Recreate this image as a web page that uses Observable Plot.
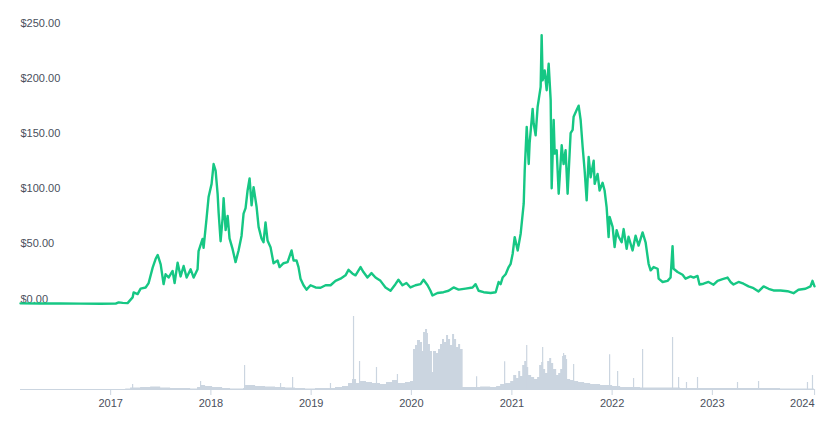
<!DOCTYPE html>
<html>
<head>
<meta charset="utf-8">
<script src="https://cdn.jsdelivr.net/npm/d3@7"></script>
<script src="https://cdn.jsdelivr.net/npm/@observablehq/plot@0.6"></script>
<style>
  html, body { margin: 0; padding: 0; background: #fff; overflow: hidden; }
  #chart svg { display: block; }
</style>
</head>
<body>
<div id="chart"></div>
<script>
// Price series (decimal year, USD)
const priceYears = [2016.103,2016.3,2016.5,2016.7,2016.9,2017.05,2017.08,2017.12,2017.169,2017.219,2017.229,2017.269,2017.299,2017.349,2017.379,2017.419,2017.449,2017.469,2017.499,2017.528,2017.548,2017.578,2017.618,2017.638,2017.668,2017.698,2017.728,2017.758,2017.798,2017.828,2017.867,2017.877,2017.917,2017.927,2017.957,2017.977,2018.007,2018.027,2018.047,2018.067,2018.077,2018.097,2018.117,2018.127,2018.147,2018.167,2018.186,2018.216,2018.246,2018.276,2018.306,2018.326,2018.346,2018.366,2018.386,2018.406,2018.426,2018.456,2018.476,2018.505,2018.525,2018.545,2018.565,2018.595,2018.625,2018.665,2018.685,2018.725,2018.765,2018.805,2018.825,2018.854,2018.874,2018.894,2018.924,2018.954,2018.994,2019.044,2019.094,2019.144,2019.194,2019.243,2019.293,2019.343,2019.373,2019.413,2019.443,2019.493,2019.522,2019.562,2019.602,2019.642,2019.692,2019.742,2019.792,2019.841,2019.871,2019.911,2019.951,2019.991,2020.041,2020.091,2020.121,2020.161,2020.19,2020.21,2020.26,2020.32,2020.37,2020.42,2020.47,2020.539,2020.609,2020.639,2020.669,2020.719,2020.789,2020.839,2020.868,2020.888,2020.908,2020.938,2020.968,2020.988,2021.008,2021.028,2021.058,2021.088,2021.118,2021.128,2021.148,2021.168,2021.177,2021.207,2021.217,2021.237,2021.257,2021.267,2021.287,2021.297,2021.307,2021.327,2021.347,2021.367,2021.387,2021.397,2021.417,2021.427,2021.447,2021.467,2021.497,2021.516,2021.536,2021.556,2021.586,2021.606,2021.616,2021.646,2021.666,2021.686,2021.706,2021.726,2021.746,2021.766,2021.786,2021.816,2021.826,2021.855,2021.875,2021.905,2021.925,2021.945,2021.965,2021.975,2022.005,2022.025,2022.045,2022.065,2022.095,2022.115,2022.145,2022.164,2022.204,2022.234,2022.264,2022.304,2022.334,2022.364,2022.384,2022.414,2022.454,2022.464,2022.504,2022.553,2022.583,2022.603,2022.613,2022.653,2022.703,2022.733,2022.783,2022.813,2022.852,2022.872,2022.912,2022.962,2023.012,2023.052,2023.102,2023.152,2023.181,2023.211,2023.261,2023.311,2023.361,2023.411,2023.461,2023.511,2023.561,2023.61,2023.68,2023.75,2023.81,2023.859,2023.929,2023.979,2023.999,2024.019];
const priceValues = [0.6,0.5,0.4,0.3,0.2,0.3,1.5,1.0,0.8,6,10.5,9,14,15,19,33,41,44.5,36,18,27,24,30,19,37.5,25,34.5,24,31.5,24,31.5,48,59,51,78,97,109,127,121,100,83,57,78,96,67,80,59.5,50,38,48.6,62,82,87,103,114,89.5,106,88,70,59.5,56,74,57.7,51.6,37,39.5,33.5,37,38,48.6,39.5,39.5,33.5,23,17,13,17,15,14.7,17,17,21,23,26,31,27.5,26,33.5,29,24,28,24,21,15,12,18,22,17,19,15,17,18,22,17,12,7.7,10,10.7,12,15,13,14,15,18,12,10.7,10,10.7,20,18,24,27,33.5,36.5,45.6,60.7,48.6,64,91,121,160.7,127,146,177,164,153,179,185,197,244,203,212,194,218,185,105,167,136.5,139.5,100,144,127,139.5,100,155,158,170,176,180,167,142.5,121,94,133.5,115,130,109,118,103,110,103,88,60.7,79,70,51.6,67,61,56,68,50,61,48.6,62,53,65,56,36.5,30.5,33.5,32,23,20,21,24,52.5,32,29,26.5,23,25,24,25.5,17.7,18.4,20,17.5,21,22.5,24,20,17.7,20,18.4,16,14.4,11.4,16,13.8,12.3,12.3,11.6,9.8,12.9,13.8,16,21,16];

// Trading volume (relative units), general level
const volYears = [2016.103,2017.15,2017.199,2017.299,2017.399,2017.499,2017.598,2017.698,2017.798,2017.867,2017.897,2017.947,2018.017,2018.117,2018.196,2018.326,2018.346,2018.446,2018.545,2018.645,2018.745,2018.844,2018.944,2019.044,2019.144,2019.243,2019.313,2019.373,2019.413,2019.453,2019.493,2019.552,2019.612,2019.692,2019.752,2019.812,2019.871,2019.941,2019.991,2020.021,2020.041,2020.061,2020.091,2020.111,2020.121,2020.141,2020.161,2020.17,2020.19,2020.21,2020.22,2020.25,2020.27,2020.29,2020.31,2020.33,2020.35,2020.37,2020.39,2020.41,2020.43,2020.45,2020.47,2020.49,2020.515,2020.589,2020.689,2020.789,2020.848,2020.888,2020.938,2020.988,2021.018,2021.048,2021.068,2021.088,2021.108,2021.128,2021.148,2021.168,2021.197,2021.227,2021.257,2021.277,2021.297,2021.317,2021.337,2021.357,2021.377,2021.397,2021.417,2021.447,2021.467,2021.487,2021.506,2021.526,2021.546,2021.556,2021.586,2021.626,2021.666,2021.726,2021.786,2021.885,2022.005,2022.085,2022.284,2022.483,2022.683,2022.882,2023.281,2023.68,2024.019];
const volValues = [0,0.5,1.5,2,2.5,1.5,1,1,0.5,2,4,3,2,1,0.5,1,4,3,2.5,2,1.5,1,0.5,1,1,2,3,6,10,6,8,7,6,5,7,9,6,7,8,40,44,49,47,38,57,60,56,45,38,17,38,36,40,45,50,47,54,50,44,55,50,42,45,40,2,2,2.5,2,3,5,6,8,14,11,18,13,24,28,22,14,12,10,12,24,27,20,16,28,31,26,20,14,16,20,33,34,30,10,9,8,7,6,5,4,3,2,1.5,1.5,1,1,1,0.5,0.5];

// Volume spikes
const spikeYears = [2017.219,2017.897,2018.336,2018.695,2018.815,2019.193,2019.423,2019.483,2019.652,2019.861,2020.649,2020.928,2021.148,2021.307,2021.516,2021.616,2021.975,2022.055,2022.214,2022.304,2022.603,2022.663,2022.742,2022.852,2023.251,2023.461,2023.949,2023.999];
const spikeValues = [5,8,24,6,12,6,73,28,22,15,12.7,27.7,44,42,36,25,34.7,18,11,40,52,12,7,12,7,8,7,14];

const yTicks = [0, 50, 100, 150, 200, 250];
const xTickYears = [2017, 2018, 2019, 2020, 2021, 2022, 2023];
const lastTickYear = [2024];

function toDate(y) {
  const yr = Math.floor(y);
  const s = Date.UTC(yr, 0, 1), e = Date.UTC(yr + 1, 0, 1);
  return new Date(s + (y - yr) * (e - s));
}

const price = priceYears.map((y, i) => ({date: toDate(y), value: priceValues[i]}));
const volume = volYears.map((y, i) => ({date: toDate(y), value: volValues[i]}));
const spikes = spikeYears.map((y, i) => ({date: toDate(y), value: spikeValues[i]}));
const xDomain = [toDate(priceYears[0]), toDate(priceYears[priceYears.length - 1])];

const GREEN = "#16c784";
const VOL = "#cbd5e0";
const TEXT = "#4a4f5c";
const FONT = "'Liberation Sans', Arial, sans-serif";

const priceChart = Plot.plot({
  width: 827,
  height: 310,
  marginLeft: 20,
  marginRight: 13,
  marginTop: 28,
  marginBottom: 6.5,
  style: {fontFamily: FONT, fontSize: "11px", color: TEXT, background: "#fff"},
  x: {type: "utc", domain: xDomain, axis: null},
  y: {domain: [0, 250], axis: null},
  marks: [
    Plot.axisY(yTicks, {
      anchor: "left", tickSize: 0, tickPadding: 0, textAnchor: "start", label: null,
      dy: -5, fill: TEXT, fontSize: 11, tickFormat: d => "$" + d3.format(",.2f")(d)
    }),
    Plot.line(price, {x: "date", y: "value", stroke: GREEN, strokeWidth: 2.4, strokeLinejoin: "round", curve: "linear"})
  ]
});

const volumeChart = Plot.plot({
  width: 827,
  height: 111,
  marginLeft: 20,
  marginRight: 13,
  marginTop: 6,
  marginBottom: 32,
  style: {fontFamily: FONT, fontSize: "11px", color: TEXT, background: "#fff"},
  x: {type: "utc", domain: xDomain, axis: null},
  y: {domain: [0, 73], axis: null},
  marks: [
    Plot.areaY(volume, {x: "date", y: "value", fill: VOL, curve: "step-after"}),
    Plot.ruleX(spikes, {x: "date", y: "value", stroke: VOL, strokeWidth: 1.2}),
    Plot.ruleY([0], {stroke: VOL, strokeWidth: 1.2}),
    Plot.axisX(xTickYears.map(y => toDate(y)), {
      anchor: "bottom", tickSize: 6, tickPadding: 4, stroke: VOL, fill: TEXT, fontSize: 11, label: null,
      tickFormat: d3.utcFormat("%Y")
    }),
    Plot.axisX(lastTickYear.map(y => toDate(y)), {
      anchor: "bottom", tickSize: 6, tickPadding: 4, stroke: VOL, fill: TEXT, fontSize: 11, label: null,
      textAnchor: "end", dx: 2, tickFormat: d3.utcFormat("%Y")
    })
  ]
});

document.getElementById("chart").append(priceChart, volumeChart);
</script>
</body>
</html>
